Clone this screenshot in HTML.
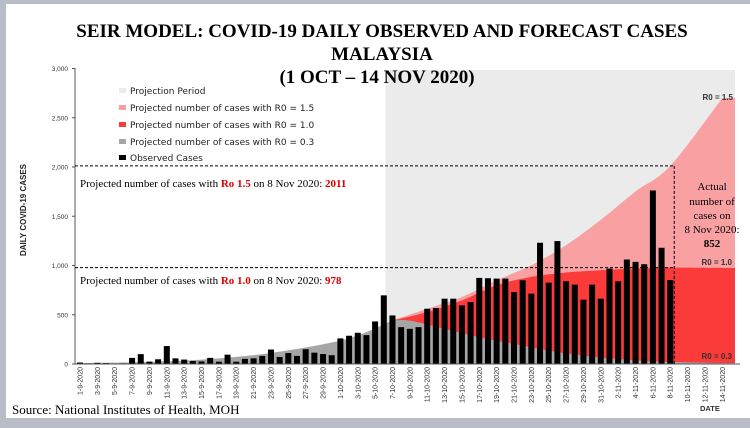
<!DOCTYPE html>
<html><head><meta charset="utf-8"><style>
html,body{margin:0;padding:0;background:#b9bdc8;}
#wrap{position:relative;width:750px;height:428px;overflow:hidden;background:#b9bdc8;}
svg{position:absolute;left:0;top:0;}
</style></head><body>
<div id="wrap">
<svg id="chart" width="750" height="428"></svg>
</div>
<script>
const dates=["1-9","2-9","3-9","4-9","5-9","6-9","7-9","8-9","9-9","10-9","11-9","12-9","13-9","14-9","15-9","16-9","17-9","18-9","19-9","20-9","21-9","22-9","23-9","24-9","25-9","26-9","27-9","28-9","29-9","30-9","1-10","2-10","3-10","4-10","5-10","6-10","7-10","8-10","9-10","10-10","11-10","12-10","13-10","14-10","15-10","16-10","17-10","18-10","19-10","20-10","21-10","22-10","23-10","24-10","25-10","26-10","27-10","28-10","29-10","30-10","31-10","1-11","2-11","3-11","4-11","5-11","6-11","7-11","8-11","9-11","10-11","11-11","12-11","13-11","14-11"];
const observed=[15,6,12,9,5,6,62,100,24,48,182,57,45,30,26,62,23,95,23,52,58,82,147,71,111,82,150,115,101,89,260,287,317,293,432,697,493,374,357,374,561,568,663,663,595,629,874,871,867,867,731,850,714,1231,826,1248,840,806,653,806,663,969,840,1061,1037,1013,1762,1180,852];
const yTicks=[0,500,1000,1500,2000,2500,3000];
const baseDays=[0,7,14,21,28,32,36];
const baseVals=[10,20,45,100,200,290,442];
const r03Days=[36,38,42,46,50,54,58,62,66,70,74];
const r03Vals=[442,440,357,272,204,136,85,51,27,17,10];
const r10Days=[36,40,44,48,52,56,60,64,68,74];
const r10Vals=[442,527,646,800,884,929,952,969,978,975];
const r15Days=[36,40,44,48,52,56,60,64,68,74];
const r15Vals=[442,561,680,850,1003,1207,1463,1752,2011,2700];
const projStart=36;

const NS="http://www.w3.org/2000/svg";
const svg=document.getElementById('chart');
const X0=80,DX=8.68,Y0=364,SY=0.0985;
function xs(d){return X0+d*DX;}
function ys(v){return Y0-v*SY;}
function mk(t,a,p){const e=document.createElementNS(NS,t);for(const k in a)e.setAttribute(k,a[k]);(p||svg).appendChild(e);return e;}
function smooth(days,vals){let d='';const pts=days.map((x,i)=>[xs(x),ys(vals[i])]);
 for(let i=0;i<pts.length;i++){if(i==0){d+='M'+pts[0][0]+','+pts[0][1];continue;}
 const p0=pts[Math.max(i-2,0)],p1=pts[i-1],p2=pts[i],p3=pts[Math.min(i+1,pts.length-1)];
 const c1=[p1[0]+(p2[0]-p0[0])/6,p1[1]+(p2[1]-p0[1])/6],c2=[p2[0]-(p3[0]-p1[0])/6,p2[1]-(p3[1]-p1[1])/6];
 d+=' C'+c1[0]+','+c1[1]+' '+c2[0]+','+c2[1]+' '+p2[0]+','+p2[1];}return d;}
function area(days,vals,extR){const xl=xs(days[0]),xr=xs(days[days.length-1]);
 let d=smooth(days,vals); if(extR){d+=' L'+extR+','+ys(vals[vals.length-1]-0);} d+=' L'+(extR||xr)+','+Y0+' L'+xl+','+Y0+' Z';return d;}

let e=mk('rect',{x:6,y:4,width:744,height:414,fill:'#ffffff'});

e=mk('rect',{x:xs(projStart)-7,y:70,width:735-(xs(projStart)-7),height:Y0-70,fill:'#ebebeb'});

const right=735;
e=mk('path',{d:area(r15Days,r15Vals,right),fill:'#f9a0a3'});

e=mk('path',{d:area(r10Days,r10Vals,right),fill:'#fb3a3a'});

e=mk('path',{d:area(r03Days,r03Vals,right),fill:'#a6a6a6'});

e=mk('path',{d:area(baseDays,baseVals),fill:'#a6a6a6'});

observed.forEach((v,i)=>{const b=mk('rect',{x:xs(i)-3,y:ys(v),width:6,height:v*SY,fill:'#000'});

});
e=mk('line',{x1:75,y1:68,x2:75,y2:Y0,stroke:'#555','stroke-width':1});

e=mk('line',{x1:75,y1:Y0,x2:740,y2:Y0,stroke:'#555','stroke-width':1});

yTicks.forEach(t=>{const tx=mk('text',{x:68,y:ys(t)+2.5,'font-size':6.5,'text-anchor':'end',fill:'#333','font-family':'Liberation Sans, sans-serif'});tx.textContent=t.toLocaleString('en-US');


mk('line',{x1:72,y1:ys(t),x2:75,y2:ys(t),stroke:'#555'});});
dates.forEach((d,i)=>{if(i%2)return;const x=xs(i)+2.5;const tx=mk('text',{x:x,y:367,'font-size':7,'text-anchor':'end',fill:'#333','font-family':'Liberation Sans, sans-serif',transform:'rotate(-90 '+x+' 367)'});tx.textContent=d+'-2020';

});
const x8=xs(68)+4;
[[2011],[978]].forEach(([v])=>{const l=mk('line',{x1:75,y1:ys(v),x2:x8,y2:ys(v),stroke:'#000','stroke-dasharray':'3,2','stroke-width':1});

});
e=mk('line',{x1:x8,y1:ys(2011),x2:x8,y2:Y0,stroke:'#000','stroke-dasharray':'3,2'});

</script>
<svg width="750" height="428" style="position:absolute;left:0;top:0">
<g font-family="Liberation Serif, serif" font-weight="bold" font-size="19" text-anchor="middle" fill="#000">
<text x="382" y="37">SEIR MODEL: COVID-19 DAILY OBSERVED AND FORECAST CASES</text>
<text x="382" y="60">MALAYSIA</text>
<text x="377" y="83">(1 OCT – 14 NOV 2020)</text>
</g>
<text transform="rotate(-90 26 210)" x="26" y="210" font-family="Liberation Sans, sans-serif" font-size="8" font-weight="bold" text-anchor="middle" fill="#222">DAILY COVID-19 CASES</text>
<g font-family="DejaVu Sans, sans-serif" font-size="9" fill="#222">
<rect x="119" y="88" width="7" height="5" fill="#ebebeb"/><text x="130" y="94">Projection Period</text>
<rect x="119" y="105" width="7" height="5" fill="#f9a0a3"/><text x="130" y="111">Projected number of cases with R0 = 1.5</text>
<rect x="119" y="122" width="7" height="5" fill="#fb3a3a"/><text x="130" y="128">Projected number of cases with R0 = 1.0</text>
<rect x="119" y="139" width="7" height="5" fill="#a6a6a6"/><text x="130" y="145">Projected number of cases with R0 = 0.3</text>
<rect x="119" y="155" width="7" height="5" fill="#000"/><text x="130" y="161">Observed Cases</text>
</g>
<g font-family="Liberation Sans, sans-serif" font-size="8" font-weight="bold" fill="#333" text-anchor="end">
<text x="733" y="100">R0 = 1.5</text>
<text x="732" y="265">R0 = 1.0</text>
<text x="732" y="359">R0 = 0.3</text>
</g>
<rect x="76" y="172" width="300" height="22" fill="#fff"/>
<text x="80" y="187" font-family="Liberation Serif, serif" font-size="11" fill="#000">Projected number of cases with <tspan fill="#e00000" font-weight="bold">Ro 1.5</tspan> on 8 Nov 2020: <tspan fill="#e00000" font-weight="bold">2011</tspan></text>
<rect x="76" y="270" width="300" height="20" fill="#fff"/>
<text x="80" y="284" font-family="Liberation Serif, serif" font-size="11" fill="#000">Projected number of cases with <tspan fill="#e00000" font-weight="bold">Ro 1.0</tspan> on 8 Nov 2020: <tspan fill="#e00000" font-weight="bold">978</tspan></text>
<g font-family="Liberation Serif, serif" font-size="11" fill="#000" text-anchor="middle">
<text x="712" y="190">Actual</text><text x="712" y="205">number of</text><text x="712" y="219">cases on</text><text x="712" y="233">8 Nov 2020:</text><text x="712" y="247" font-weight="bold">852</text>
</g>
<text x="700" y="411" font-family="Liberation Sans, sans-serif" font-size="7.5" font-weight="bold" fill="#333">DATE</text>
<text x="12" y="414" font-family="Liberation Serif, serif" font-size="13" fill="#000">Source: National Institutes of Health, MOH</text>
</svg>
</body></html>
